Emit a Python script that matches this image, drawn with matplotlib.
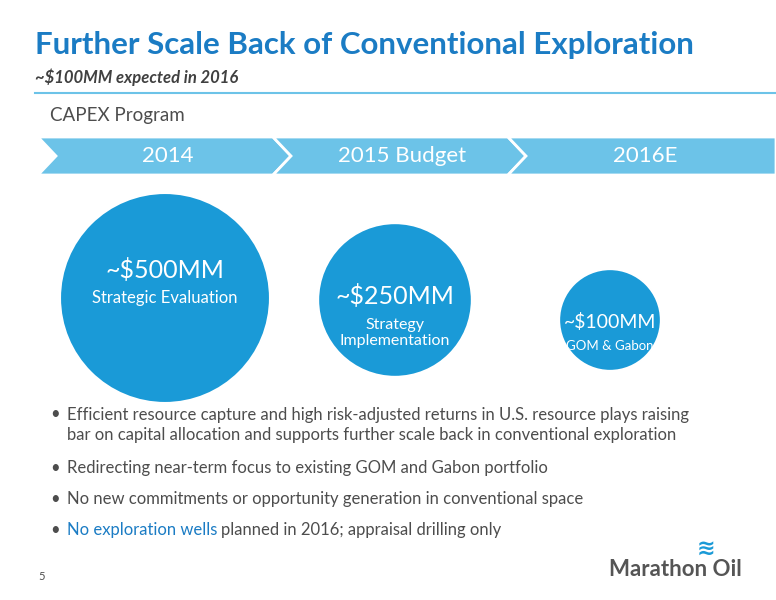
import matplotlib
matplotlib.use("Agg")
import matplotlib.pyplot as plt
from matplotlib.patches import Circle, Polygon
import numpy as np

phases = ["2014", "2015 Budget", "2016E"]
capex_mm = [500, 250, 100]
amount_labels = ["~$500MM", "~$250MM", "~$100MM"]
descriptions = ["Strategic Evaluation", "Strategy\nImplementation", "GOM & Gabon"]
bullets = [
    "Efficient resource capture and high risk-adjusted returns in U.S. resource plays raising\nbar on capital allocation and supports further scale back in conventional exploration",
    "Redirecting near-term focus to existing GOM and Gabon portfolio",
    "No new commitments or opportunity generation in conventional space",
]

BLUE = "#1b7cc4"
CIRC = "#1a9ad7"
CHEV = "#6cc3e8"
GRAY = "#4d4d4d"
FONT = ["Lato", "DejaVu Sans"]

fig = plt.figure(figsize=(7.76, 6), dpi=100)
ax = fig.add_axes([0, 0, 1, 1])
ax.set_xlim(0, 776); ax.set_ylim(600, 0); ax.axis("off")

ax.text(35, 45, "Further Scale Back of Conventional Exploration", color=BLUE,
        fontsize=22.5, fontweight="bold", family=FONT, va="center")
ax.text(35, 77, "~$100MM expected in 2016", color="#404040", fontsize=12,
        fontweight="bold", style="italic", family=FONT, va="center")
ax.plot([35, 776], [93, 93], color=CHEV, lw=1.5)
ax.text(50, 116, "CAPEX Program", color=GRAY, fontsize=13.5, family=FONT, va="center")

x0, w, tip, y1, y2 = 38, 235, 18, 137, 175
ym = (y1 + y2) / 2
for i, ph in enumerate(phases):
    xs = x0 + i * w
    pts = [(xs, y1), (xs + w, y1), (xs + w + tip, ym), (xs + w, y2), (xs, y2), (xs + tip, ym)]
    if i == 2:
        pts = [(xs, y1), (776, y1), (776, y2), (xs, y2), (xs + tip, ym)]
    ax.add_patch(Polygon(pts, closed=True, fc=CHEV, ec="white", lw=2))
    cx = xs + w / 2 + 12 if i < 2 else xs + w / 2 + 20
    ax.text(cx, ym, ph, color="white", fontsize=16, family=FONT, ha="center", va="center")

centers = [(165, 298), (395, 300), (610, 320)]
amt_y = [270, 296, 322]
desc_y = [298, 333, 346]
amt_fs = [18, 18, 14]
desc_fs = [12, 11.5, 9.5]
for k, ((cx, cy), v, lab, d) in enumerate(zip(centers, capex_mm, amount_labels, descriptions)):
    r = 105 * (v / capex_mm[0]) ** 0.45
    ax.add_patch(Circle((cx, cy), r, fc=CIRC, ec="white", lw=1.5))
    ax.text(cx, amt_y[k], lab, color="white", fontsize=amt_fs[k], family=FONT,
            ha="center", va="center")
    ax.text(cx, desc_y[k], d, color="white", fontsize=desc_fs[k], family=FONT,
            ha="center", va="center", linespacing=1.1)

ys = [425, 468, 499]
for y, b in zip(ys, bullets):
    ax.text(50, y - (11 if "\n" in b else 0), "•", color=GRAY, fontsize=12, family=FONT, va="center")
    ax.text(67, y, b, color=GRAY, fontsize=12, family=FONT, va="center", linespacing=1.25)
ax.text(50, 530, "•", color=GRAY, fontsize=12, family=FONT, va="center")
t = ax.text(67, 530, "No exploration wells", color=BLUE, fontsize=12, family=FONT, va="center")
fig.canvas.draw()
bb = t.get_window_extent()
ax.text(67 + bb.width + 4, 530, "planned in 2016; appraisal drilling only", color=GRAY,
        fontsize=12, family=FONT, va="center")

ax.text(38, 576, "5", color=GRAY, fontsize=8, family=FONT, va="center")
ax.text(742, 570, "Marathon Oil", color="#555555", fontsize=16, fontweight="bold",
        family=FONT, ha="right", va="center")
ax.text(706, 549, "≋", color=CIRC, fontsize=16, ha="center", va="center", fontweight="bold")

fig.savefig("out.png", dpi=100)
